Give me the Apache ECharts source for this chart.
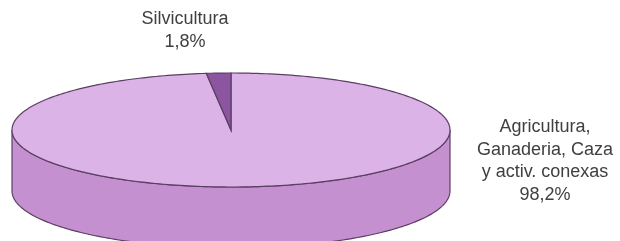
<!DOCTYPE html>
<html>
<head>
<meta charset="utf-8">
<script src="https://cdn.jsdelivr.net/npm/echarts@6/dist/echarts.min.js"></script>
<style>
  html, body { margin: 0; padding: 0; background: #fff; }
  #chart { width: 620px; height: 241px; }
</style>
</head>
<body>
<div id="chart"></div>
<script>
// slices, in drawing order (clockwise from 12 o'clock)
const names = ['Agricultura,\nGanaderia, Caza\ny activ. conexas', 'Silvicultura']
const values = [98.2, 1.8]
const topColors = ['#dcb3e6', '#8c559f']
const sideColors = ['#c490cf', '#7a4a8c']

const chart = echarts.init(document.getElementById('chart'))

// pie geometry (projected ellipse)
const cx = 231, cy = 130, rx = 219, ry = 57, depth = 61
const total = values.reduce((a, b) => a + b, 0)

const pt = (t, dy) => [cx + rx * Math.sin(t), cy - ry * Math.cos(t) + (dy || 0)]

function sliceAngles(i) {
  let start = 0
  for (let k = 0; k < i; k++) start += values[k] / total * Math.PI * 2
  return [start, start + values[i] / total * Math.PI * 2]
}

function arcPoints(a0, a1, dy) {
  const pts = []
  const n = Math.max(2, Math.ceil((a1 - a0) / 0.02))
  for (let k = 0; k <= n; k++) pts.push(pt(a0 + (a1 - a0) * k / n, dy))
  return pts
}

const lineColor = '#5b3f63'

function renderSide(params, api) {
  const i = params.dataIndex
  const [a0, a1] = sliceAngles(i)
  // front half of ellipse: angles between 90 and 270 deg
  const s = Math.max(a0, Math.PI / 2), e = Math.min(a1, Math.PI * 3 / 2)
  if (e <= s) return
  const top = arcPoints(s, e, 0)
  const bottom = arcPoints(s, e, depth).reverse()
  return {
    type: 'polygon',
    shape: { points: top.concat(bottom) },
    style: { fill: sideColors[i], stroke: lineColor, lineWidth: 1.2 }
  }
}

function renderTop(params, api) {
  const i = params.dataIndex
  const [a0, a1] = sliceAngles(i)
  const pts = [[cx, cy]].concat(arcPoints(a0, a1, 0))
  return {
    type: 'polygon',
    shape: { points: pts },
    style: { fill: topColors[i], stroke: lineColor, lineWidth: 1.2 }
  }
}

const pct = v => v.toFixed(1).replace('.', ',') + '%'
const labelStyle = {
  fill: '#404040',
  font: '18px "Liberation Sans", Arial, sans-serif',
  align: 'center',
  verticalAlign: 'top',
  lineHeight: 22.5
}

chart.setOption({
  animation: false,
  series: [
    {
      type: 'custom',
      coordinateSystem: 'none',
      renderItem: renderSide,
      data: values,
      z: 1
    },
    {
      type: 'custom',
      coordinateSystem: 'none',
      renderItem: renderTop,
      data: values,
      z: 2
    }
  ],
  graphic: [
    {
      type: 'text',
      x: 545,
      y: 116,
      style: Object.assign({ text: names[0] + '\n' + pct(values[0]) }, labelStyle)
    },
    {
      type: 'text',
      x: 185,
      y: 8,
      style: Object.assign({ text: names[1] + '\n' + pct(values[1]) }, labelStyle)
    }
  ]
})
</script>
</body>
</html>
